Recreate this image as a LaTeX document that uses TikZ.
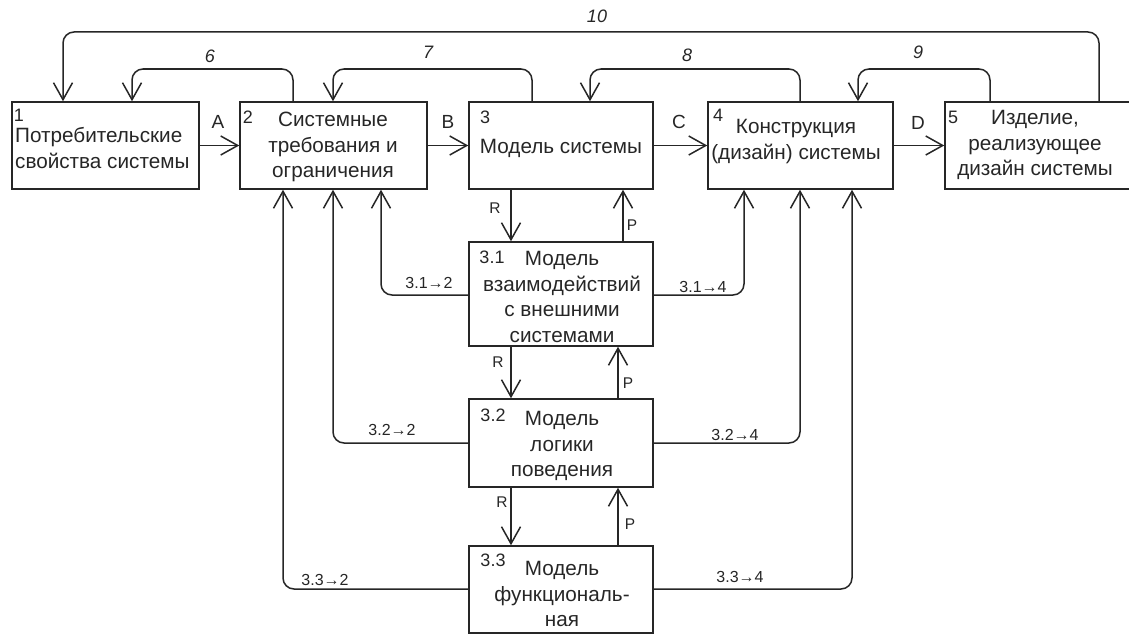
\documentclass[tikz,border=0pt]{standalone}
\usepackage{fontspec}
\setmainfont{Liberation Sans}
\usetikzlibrary{arrows.meta}
\begin{document}
\begin{tikzpicture}[x=1pt,y=-1pt,
  every node/.style={text=black!85, inner sep=0pt},
  box/.style={draw=black!85, line width=1.5pt},
  link/.style={draw=black!85, line width=1.5pt, -{Straight Barb[length=17pt,width=19pt]}},
  loop/.style={link, rounded corners=11pt},
  txt/.style={font=\fontsize{20.7}{25.5}\selectfont, align=center},
  num/.style={font=\fontsize{18}{20}\selectfont},
  tag/.style={font=\fontsize{19}{21}\selectfont},
  fbtag/.style={font=\fontsize{18}{20}\selectfont\itshape},
  rp/.style={font=\fontsize{15.5}{17}\selectfont},
  cross/.style={font=\fontsize{16}{18}\selectfont},
]
\useasboundingbox (0,0) rectangle (1129,634);

% main chain of boxes
\node[box, minimum width=187pt, minimum height=87pt] (b1) at (105.5,145.5) {};
\node[box, minimum width=187pt, minimum height=87pt] (b2) at (333.5,145.5) {};
\node[box, minimum width=184pt, minimum height=87pt] (b3) at (561,145.5) {};
\node[box, minimum width=185pt, minimum height=87pt] (b4) at (800.5,145.5) {};
\node[box, minimum width=190pt, minimum height=87pt] (b5) at (1040,145.5) {};

% sub-models of box 3
\node[box, minimum width=184pt, minimum height=104pt] (s1) at (561,294) {};
\node[box, minimum width=184pt, minimum height=88pt] (s2) at (561,443) {};
\node[box, minimum width=184pt, minimum height=87pt] (s3) at (561,589.5) {};

% box texts
\node[num] (n1) at (19,115) {1};
\node[txt, align=left, anchor=west] (t1) at (15,148) {Потребительские\\свойства системы};
\node[num] (n2) at (248,117) {2};
\node[txt] (t2) at (333,147) {Системные\\требования и\\ограничения};
\node[num] (n3) at (485,117) {3};
\node[txt] (t3) at (561,148) {Модель системы};
\node[num] (n4) at (718,115) {4};
\node[txt] (t4) at (796,141.5) {Конструкция\\(дизайн) системы};
\node[num] (n5) at (953,117) {5};
\node[txt] (t5) at (1035,145) {Изделие,\\реализующее\\дизайн системы};

\node[num] (n31) at (492,257) {3.1};
\node[txt] (t31) at (562,297) {Модель\\взаимодействий\\с внешними\\системами};
\node[num] (n32) at (493,415) {3.2};
\node[txt] (t32) at (562,446) {Модель\\логики\\поведения};
\node[num] (n33) at (493,560) {3.3};
\node[txt] (t33) at (562,594) {Модель\\функциональ-\\ная};

% forward chain
\draw[link] (b1) -- (b2);
\draw[link] (b2) -- (b3);
\draw[link] (b3) -- (b4);
\draw[link] (b4) -- (b5);
\node[tag] (la) at (218,122) {A};
\node[tag] (lb) at (448,122) {B};
\node[tag] (lc) at (679,122) {C};
\node[tag] (ld) at (918,123) {D};

% feedback loops over the top
\draw[loop] (293,0 |- b2.north) -- (293,69) -- (132,69) -- (132,0 |- b1.north);
\draw[loop] (532,0 |- b3.north) -- (532,69) -- (333,69) -- (333,0 |- b2.north);
\draw[loop] (800,0 |- b4.north) -- (800,69) -- (590,69) -- (590,0 |- b3.north);
\draw[loop] (990,0 |- b5.north) -- (990,69) -- (858,69) -- (858,0 |- b4.north);
\draw[loop] (1099,0 |- b5.north) -- (1099,32) -- (63,32) -- (63,0 |- b1.north);
\node[fbtag] (l6) at (210,56) {6};
\node[fbtag] (l7) at (428,52) {7};
\node[fbtag] (l8) at (687,55) {8};
\node[fbtag] (l9) at (918,52) {9};
\node[fbtag] (l10) at (597,16) {10};

% refinement (R) and feedback (P) between levels
\draw[link] (511,0 |- b3.south) -- (511,0 |- s1.north);
\draw[link] (623,0 |- s1.north) -- (623,0 |- b3.south);
\draw[link] (511,0 |- s1.south) -- (511,0 |- s2.north);
\draw[link] (618,0 |- s2.north) -- (618,0 |- s1.south);
\draw[link] (511,0 |- s2.south) -- (511,0 |- s3.north);
\draw[link] (618,0 |- s3.north) -- (618,0 |- s2.south);
\node[rp] (r1) at (495,208) {R};
\node[rp] (p1) at (632,225) {P};
\node[rp] (r2) at (498,362) {R};
\node[rp] (p2) at (628,383) {P};
\node[rp] (r3) at (502,502) {R};
\node[rp] (p3) at (630,524) {P};

% links from sub-models to boxes 2 and 4
\draw[loop] (s1.west |- 0,295) -- (381,295) -- (381,0 |- b2.south);
\draw[loop] (s1.east |- 0,295) -- (744,295) -- (744,0 |- b4.south);
\draw[loop] (s2.west |- 0,443) -- (333,443) -- (333,0 |- b2.south);
\draw[loop] (s2.east |- 0,443) -- (800,443) -- (800,0 |- b4.south);
\draw[loop] (s3.west |- 0,589) -- (283,589) -- (283,0 |- b2.south);
\draw[loop] (s3.east |- 0,589) -- (852,589) -- (852,0 |- b4.south);
\node[cross] (c12) at (429,283) {3.1→2};
\node[cross] (c14) at (703,287) {3.1→4};
\node[cross] (c22) at (392,430) {3.2→2};
\node[cross] (c24) at (735,435) {3.2→4};
\node[cross] (c32) at (325,580) {3.3→2};
\node[cross] (c34) at (740,577) {3.3→4};
\end{tikzpicture}
\end{document}
